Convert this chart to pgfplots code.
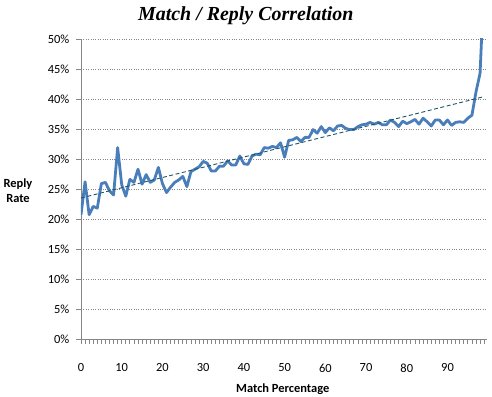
\documentclass[border=0pt]{standalone}
\usepackage{fontspec}
\setmainfont{Carlito}
\newfontfamily\titlefont{Liberation Serif}
\usepackage{pgfplots}
\pgfplotsset{compat=1.18}
\definecolor{serblue}{RGB}{74,126,187}
\definecolor{trendc}{RGB}{30,85,100}
\definecolor{axgray}{RGB}{134,134,134}
\begin{document}
\begin{tikzpicture}
\path[use as bounding box] (-81bp,-58bp) rectangle (411bp,339bp);
\begin{axis}[
  at={(0,0)}, anchor=south west,
  scale only axis, width=406bp, height=300bp,
  xmin=0, xmax=99.7, ymin=0, ymax=50,
  axis x line*=bottom, axis y line*=left,
  axis line style={axgray, line width=0.9bp},
  xtick={0,10,...,90},
  minor xtick={0,1,...,99},
  ytick={0,5,...,50},
  tick align=outside,
  major tick length=4.5bp, minor tick length=4.5bp,
  tick style={axgray, line width=0.8bp},
  ymajorgrids,
  major grid style={axgray, dotted, line width=0.9bp},
  yticklabel={\pgfmathprintnumber{\tick}\%},
  /pgf/number format/assume math mode=true,
  ticklabel style={font=\fontsize{12.5}{14}\selectfont, text=black},
  yticklabel style={anchor=east, inner sep=0pt, xshift=-7bp},
  xticklabel style={anchor=north, inner sep=0pt, yshift=-20bp},
  title={\titlefont\bfseries\itshape Match / Reply Correlation},
  title style={at={(axis description cs:0.406,1)}, anchor=center, yshift=17bp, font=\fontsize{20}{22}\selectfont},
  xlabel={\bfseries Match Percentage},
  xlabel style={at={(axis description cs:0.497,0)}, anchor=center, yshift=-50bp, font=\fontsize{12.5}{14}\selectfont},
  ylabel={\bfseries Reply\\\bfseries Rate},
  ylabel style={rotate=-90, at={(axis description cs:0,0.495)}, anchor=center, xshift=-63bp, align=center, font=\fontsize{12.5}{15}\selectfont},
  clip=true,
]
\addplot[serblue, line width=2.8bp, line join=round] coordinates {
(0,20.7) (1,26.2) (2,20.7) (3,22.1) (4,21.8) (5,25.9) (6,26.1) (7,24.7) (8,24.0) (9,31.9)
(10,25.7) (11,23.8) (12,26.6) (13,26.1) (14,28.3) (15,25.8) (16,27.4) (17,26.1) (18,26.5) (19,28.6)
(20,25.9) (21,24.4) (22,25.3) (23,26.1) (24,26.5) (25,27.1) (26,25.4) (27,27.9) (28,28.3) (29,28.7)
(30,29.6) (31,29.3) (32,28.0) (33,28.0) (34,28.8) (35,28.8) (36,29.7) (37,29.0) (38,29.0) (39,30.5)
(40,29.2) (41,29.1) (42,30.5) (43,30.8) (44,30.7) (45,31.9) (46,31.8) (47,32.1) (48,31.9) (49,32.7)
(50,30.3) (51,33.1) (52,33.2) (53,33.6) (54,32.9) (55,33.6) (56,33.6) (57,34.9) (58,34.3) (59,35.4)
(60,34.4) (61,35.2) (62,34.7) (63,35.5) (64,35.6) (65,35.1) (66,34.9) (67,34.9) (68,35.4) (69,35.7)
(70,35.8) (71,36.1) (72,35.8) (73,36.1) (74,35.7) (75,35.7) (76,36.5) (77,36.1) (78,35.4) (79,36.3)
(80,35.9) (81,36.2) (82,36.6) (83,35.8) (84,36.8) (85,36.2) (86,35.5) (87,36.5) (88,36.5) (89,35.7)
(90,36.5) (91,35.6) (92,36.1) (93,36.2) (94,36.1) (95,36.8) (96,37.3) (97,41.2) (98,44.3) (99,60)
};
\addplot[trendc, line width=0.9bp, dash pattern=on 4bp off 2.5bp] coordinates {(0,23.5) (99,40.4)};
\end{axis}
\end{tikzpicture}
\end{document}
